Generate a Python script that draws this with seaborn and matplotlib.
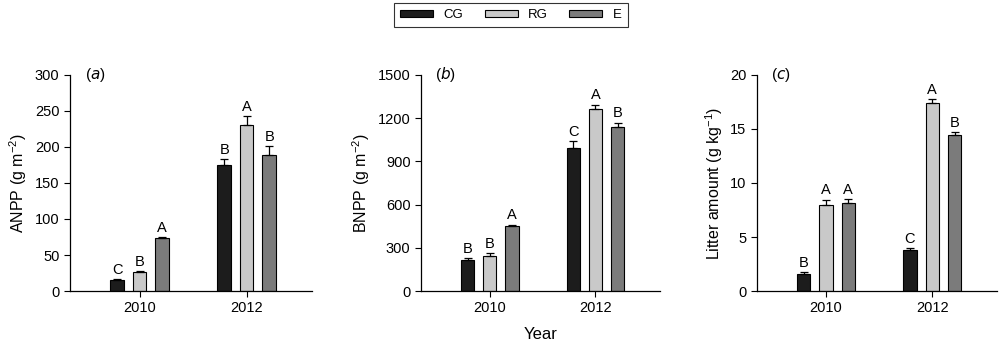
"""Grouped bar charts of ANPP, BNPP and litter amount by year and treatment."""
from matplotlib import pyplot as plt
import numpy as np
import pandas as pd
import seaborn as sns

years = ['2010', '2012']
treatments = ['CG', 'RG', 'E']
colors = ['#1c1c1c', '#c9c9c9', '#7b7b7b']

# values per treatment, [2010, 2012]
anpp = {'CG': [16, 175], 'RG': [26, 230], 'E': [73, 189]}
anpp_se = {'CG': [1, 8], 'RG': [1.2, 13], 'E': [1.5, 12]}
anpp_letters = {'CG': ['C', 'B'], 'RG': ['B', 'A'], 'E': ['A', 'B']}

bnpp = {'CG': [215, 991], 'RG': [243, 1266], 'E': [451, 1141]}
bnpp_se = {'CG': [14, 51], 'RG': [23, 28], 'E': [10, 28]}
bnpp_letters = {'CG': ['B', 'C'], 'RG': ['B', 'A'], 'E': ['A', 'B']}

litter = {'CG': [1.57, 3.77], 'RG': [7.99, 17.44], 'E': [8.12, 14.44]}
litter_se = {'CG': [0.16, 0.21], 'RG': [0.47, 0.31], 'E': [0.37, 0.28]}
litter_letters = {'CG': ['B', 'C'], 'RG': ['A', 'A'], 'E': ['A', 'B']}


def to_frame(vals, se, letters):
    rows = []
    for t in treatments:
        for i, y in enumerate(years):
            rows.append({'Year': y, 'Treatment': t, 'value': vals[t][i],
                         'se': se[t][i], 'letter': letters[t][i]})
    return pd.DataFrame(rows)


def draw(ax, df, ylabel, ylim, yticks, tag, offset):
    sns.barplot(data=df, x='Year', y='value', hue='Treatment', order=years,
                hue_order=treatments, palette=colors, width=0.63, gap=0.4,
                edgecolor='black', linewidth=0.8, errorbar=None, ax=ax,
                legend=True)
    for t, cont in zip(treatments, ax.containers):
        sub = df[df['Treatment'] == t].set_index('Year').loc[years]
        xs = np.array([p.get_x() + p.get_width() / 2 for p in cont.patches])
        ys = sub['value'].to_numpy()
        err = sub['se'].to_numpy()
        ax.errorbar(xs, ys, yerr=[np.zeros_like(err), err], fmt='none',
                    ecolor='black', elinewidth=0.9, capsize=3, capthick=0.9)
        for x, yv, e, lab in zip(xs, ys, err, sub['letter']):
            ax.text(x, yv + e + offset, lab, ha='center', va='bottom',
                    fontsize=10.5)
    ax.set_xlim(-0.65, 1.61)
    ax.set_ylim(*ylim)
    ax.set_yticks(yticks)
    ax.set_ylabel(ylabel, fontsize=11.5)
    ax.set_xlabel('')
    ax.tick_params(axis='both', labelsize=10.5, direction='out', length=4,
                   width=0.8, color='black', labelcolor='black')
    for s in ['top', 'right']:
        ax.spines[s].set_visible(False)
    for s in ['left', 'bottom']:
        ax.spines[s].set_linewidth(0.9)
        ax.spines[s].set_color('black')
    ax.text(0.06, 1.0, r'($\it{' + tag + r'}$)', transform=ax.transAxes,
            fontsize=11, ha='left', va='center')


def main():
    sns.set_style('ticks')
    plt.rcParams['font.family'] = ['Liberation Sans', 'DejaVu Sans']
    plt.rcParams['mathtext.default'] = 'regular'
    plt.rcParams['text.color'] = 'black'
    plt.rcParams['axes.labelcolor'] = 'black'

    fig = plt.figure(figsize=(10, 3.42), dpi=100)
    ax_a = fig.add_axes([0.070, 0.149, 0.242, 0.632])
    ax_b = fig.add_axes([0.421, 0.149, 0.239, 0.632])
    ax_c = fig.add_axes([0.757, 0.149, 0.240, 0.632])

    draw(ax_a, to_frame(anpp, anpp_se, anpp_letters), 'ANPP (g m$^{-2}$)',
         (0, 300), np.arange(0, 301, 50), 'a', 3)
    draw(ax_b, to_frame(bnpp, bnpp_se, bnpp_letters), 'BNPP (g m$^{-2}$)',
         (0, 1500), np.arange(0, 1501, 300), 'b', 15)
    draw(ax_c, to_frame(litter, litter_se, litter_letters),
         'Litter amount (g kg$^{-1}$)', (0, 20), np.arange(0, 21, 5), 'c', 0.2)
    ax_b.set_xlabel('Year', fontsize=12, labelpad=8)

    handles, labels = ax_a.get_legend_handles_labels()
    for ax in (ax_a, ax_b, ax_c):
        ax.get_legend().remove()
    leg = fig.legend(handles, labels, loc='upper center',
                     bbox_to_anchor=(0.511, 1.01), ncol=3, fontsize=9.5,
                     frameon=True, fancybox=False, edgecolor='black',
                     handlelength=2.5, handleheight=0.45, columnspacing=1.6,
                     handletextpad=0.8, borderpad=0.45)
    leg.get_frame().set_linewidth(0.8)

    fig.savefig('out.png', dpi=100)


if __name__ == '__main__':
    main()
